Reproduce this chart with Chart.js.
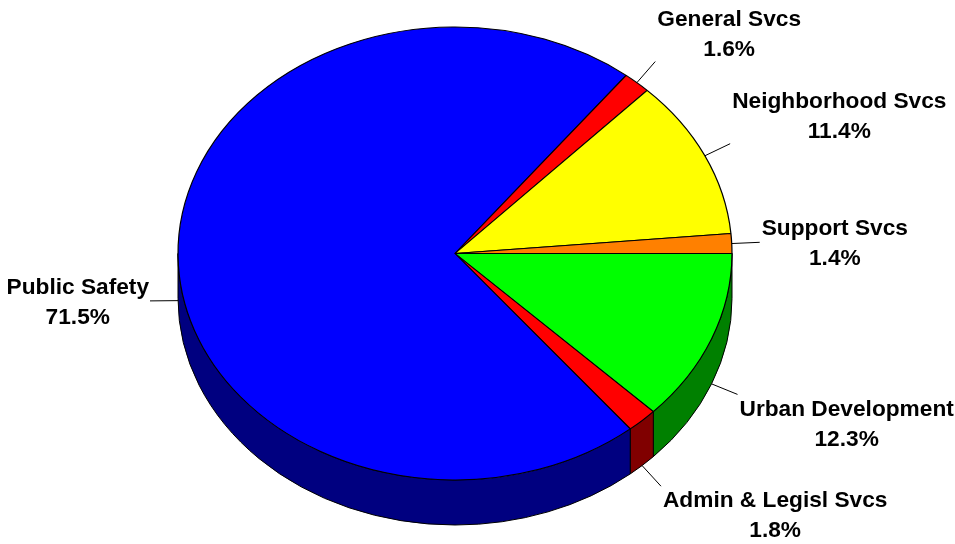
<!DOCTYPE html>
<html>
<head>
<meta charset="utf-8">
<script src="https://cdn.jsdelivr.net/npm/chart.js@4.4.0/dist/chart.umd.min.js"></script>
<style>
html,body{margin:0;background:#fff}
#wrap{width:955px;height:544px}
</style>
</head>
<body>
<div id="wrap"><canvas id="pie"></canvas></div>
<script>
// clockwise from 3 o'clock
const labels=['Urban Development','Admin & Legisl Svcs','Public Safety','General Svcs','Neighborhood Svcs','Support Svcs'];
const shares=[12.3,1.8,71.5,1.6,11.4,1.4];
const topColors=['#00FF00','#FF0000','#0000FF','#FF0000','#FFFF00','#FF8000'];
const sideColors=['#008000','#800000','#000080','#800000','#808000','#804000'];

const DEPTH=45,LEAD=28,FONT='bold 22.7px "Liberation Sans", Arial, sans-serif';

function geom(chart){
  const a=chart.getDatasetMeta(0).data[0],ca=chart.chartArea;
  return {cx:a.x,cy:a.y,r:a.outerRadius,rx:ca.width/2,ry:ca.height/2};
}

// flattens the pie into an ellipse and adds the front wall
const tilt={
  id:'tilt',
  beforeDatasetsDraw(chart){
    const ctx=chart.ctx,g=geom(chart);
    ctx.save();
    ctx.lineWidth=1;ctx.strokeStyle='#000';
    chart.getDatasetMeta(0).data.forEach((arc,i)=>{
      const s=Math.max(arc.startAngle,0),e=Math.min(arc.endAngle,Math.PI);
      if(e<=s)return;
      ctx.beginPath();
      ctx.ellipse(g.cx,g.cy,g.rx,g.ry,0,s,e);
      ctx.ellipse(g.cx,g.cy+DEPTH,g.rx,g.ry,0,e,s,true);
      ctx.closePath();
      ctx.fillStyle=sideColors[i];ctx.fill();ctx.stroke();
    });
    ctx.translate(g.cx,g.cy);ctx.scale(g.rx/g.r,g.ry/g.r);ctx.translate(-g.cx,-g.cy);
  },
  afterDatasetsDraw(chart){
    const ctx=chart.ctx;ctx.restore();
    const g=geom(chart);
    ctx.save();
    ctx.font=FONT;ctx.textAlign='center';ctx.textBaseline='middle';
    ctx.fillStyle='#000';ctx.strokeStyle='#000';ctx.lineWidth=1;
    chart.getDatasetMeta(0).data.forEach((arc,i)=>{
      const m=(arc.startAngle+arc.endAngle)/2,c=Math.cos(m),s=Math.sin(m);
      const x0=g.cx+g.rx*c,y0=g.cy+g.ry*s+(s>0?DEPTH:0);
      const x1=x0+LEAD*c,y1=y0+LEAD*s;
      ctx.beginPath();ctx.moveTo(x0,y0);ctx.lineTo(x1,y1);ctx.stroke();
      const lines=[labels[i],shares[i].toFixed(1)+'%'];
      const w=Math.max(...lines.map(t=>ctx.measureText(t).width));
      const mx=c>=0?x1+2+w/2:x1-1-w/2;
      const my=y1+(Math.abs(s)<0.2?1.5:(s<0?-27:30));
      lines.forEach((t,k)=>ctx.fillText(t,mx,my+(k-0.5)*30));
    });
    ctx.restore();
  }
};

new Chart(document.getElementById('pie'),{
  type:'pie',
  data:{labels:labels,datasets:[{data:shares,backgroundColor:topColors,borderColor:'#000',borderWidth:1,hoverOffset:0,clip:false}]},
  options:{
    responsive:true,maintainAspectRatio:false,animation:false,events:[],
    rotation:90,
    layout:{padding:{left:178,right:223,top:27,bottom:64}},
    plugins:{legend:{display:false},tooltip:{enabled:false}}
  },
  plugins:[tilt]
});
</script>
</body>
</html>
